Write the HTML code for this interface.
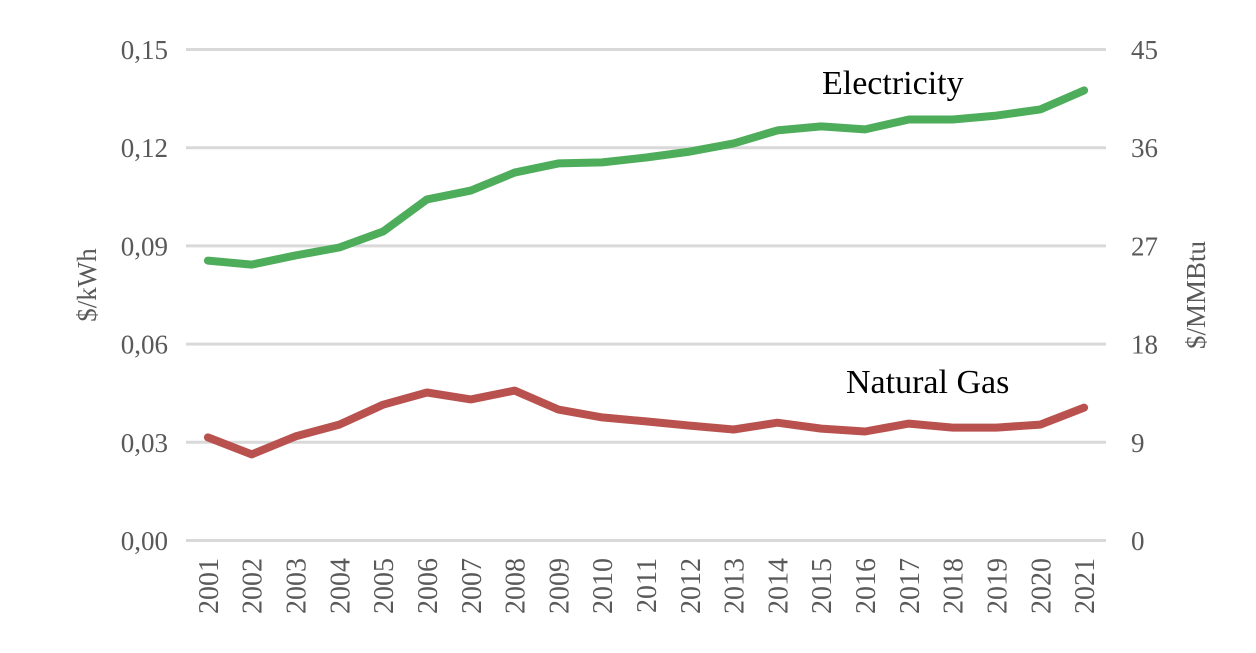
<!DOCTYPE html>
<html><head><meta charset="utf-8"><style>
html,body{margin:0;padding:0;background:#fff;}
svg text{font-family:"Liberation Serif",serif;fill:#595959;}
</style></head><body>
<svg id="chart" width="1256" height="648" viewBox="0 0 1256 648" xmlns="http://www.w3.org/2000/svg"></svg>
<script>
const years = ["2001","2002","2003","2004","2005","2006","2007","2008","2009","2010","2011","2012","2013","2014","2015","2016","2017","2018","2019","2020","2021"];
const electricity = [0.0855,0.0843,0.0871,0.0895,0.0944,0.1042,0.1069,0.1124,0.1152,0.1155,0.1170,0.1188,0.1213,0.1253,0.1265,0.1256,0.1286,0.1286,0.1298,0.1317,0.1375];
const naturalGas = [0.0315,0.0263,0.0318,0.0354,0.0415,0.0452,0.0431,0.0458,0.0400,0.0376,0.0364,0.0351,0.0339,0.0360,0.0342,0.0333,0.0357,0.0345,0.0345,0.0354,0.0406];
const leftTicks = [0,0.03,0.06,0.09,0.12,0.15];
const leftTickLabels = ["0,00","0,03","0,06","0,09","0,12","0,15"];
const rightTickLabels = ["0","9","18","27","36","45"];

const svg = document.getElementById('chart');
const NS = 'http://www.w3.org/2000/svg';
const x0 = 186, x1 = 1106, yBase = 540.5, yTop = 49.5;
const yS = v => yBase - (v / 0.15) * (yBase - yTop);
const step = (x1 - x0) / years.length;
const xS = i => x0 + step * (i + 0.5);
function mk(tag, attrs, parent) { const e = document.createElementNS(NS, tag); for (const k in attrs) e.setAttribute(k, attrs[k]); (parent || svg).appendChild(e); return e; }

leftTicks.forEach((t, i) => {
  const y = yS(t);
  const g = mk('line', {x1: x0, x2: x1, y1: y, y2: y, stroke: '#d9d9d9', 'stroke-width': 3});
  
  
  const l = mk('text', {x: 168, y: y + 9.5, 'text-anchor': 'end', 'font-size': 27});
  l.textContent = leftTickLabels[i];
  
  
  const r = mk('text', {x: 1131, y: y + 9.5, 'text-anchor': 'start', 'font-size': 27});
  r.textContent = rightTickLabels[i];
  
  
});

years.forEach((yr, i) => {
  const t = mk('text', {x: 0, y: 0, 'text-anchor': 'end', 'font-size': 28, transform: `translate(${xS(i) + 10},558) rotate(-90)`});
  t.textContent = yr;
  
  
});

function line(data, color, name) {
  const d = data.map((v, i) => (i ? 'L' : 'M') + xS(i).toFixed(1) + ',' + yS(v).toFixed(1)).join(' ');
  const p = mk('path', {d, fill: 'none', stroke: color, 'stroke-width': 8, 'stroke-linecap': 'round', 'stroke-linejoin': 'round'});
  
  
}
line(electricity, '#4ead5b', 'electricity-line');
line(naturalGas, '#b9524f', 'natural-gas-line');

const la = mk('text', {x: 0, y: 0, 'text-anchor': 'middle', 'font-size': 27, transform: 'translate(96,285) rotate(-90)'});
la.textContent = '$/kWh';


const ra = mk('text', {x: 0, y: 0, 'text-anchor': 'middle', 'font-size': 27, transform: 'translate(1205,295) rotate(-90)'});
ra.textContent = '$/MMBtu';



const e = mk('text', {x: 822, y: 94, 'font-size': 34, style: 'fill:#000'});
e.textContent = 'Electricity';


const n = mk('text', {x: 846, y: 393, 'font-size': 34, style: 'fill:#000'});
n.textContent = 'Natural Gas';


</script>
</body></html>
